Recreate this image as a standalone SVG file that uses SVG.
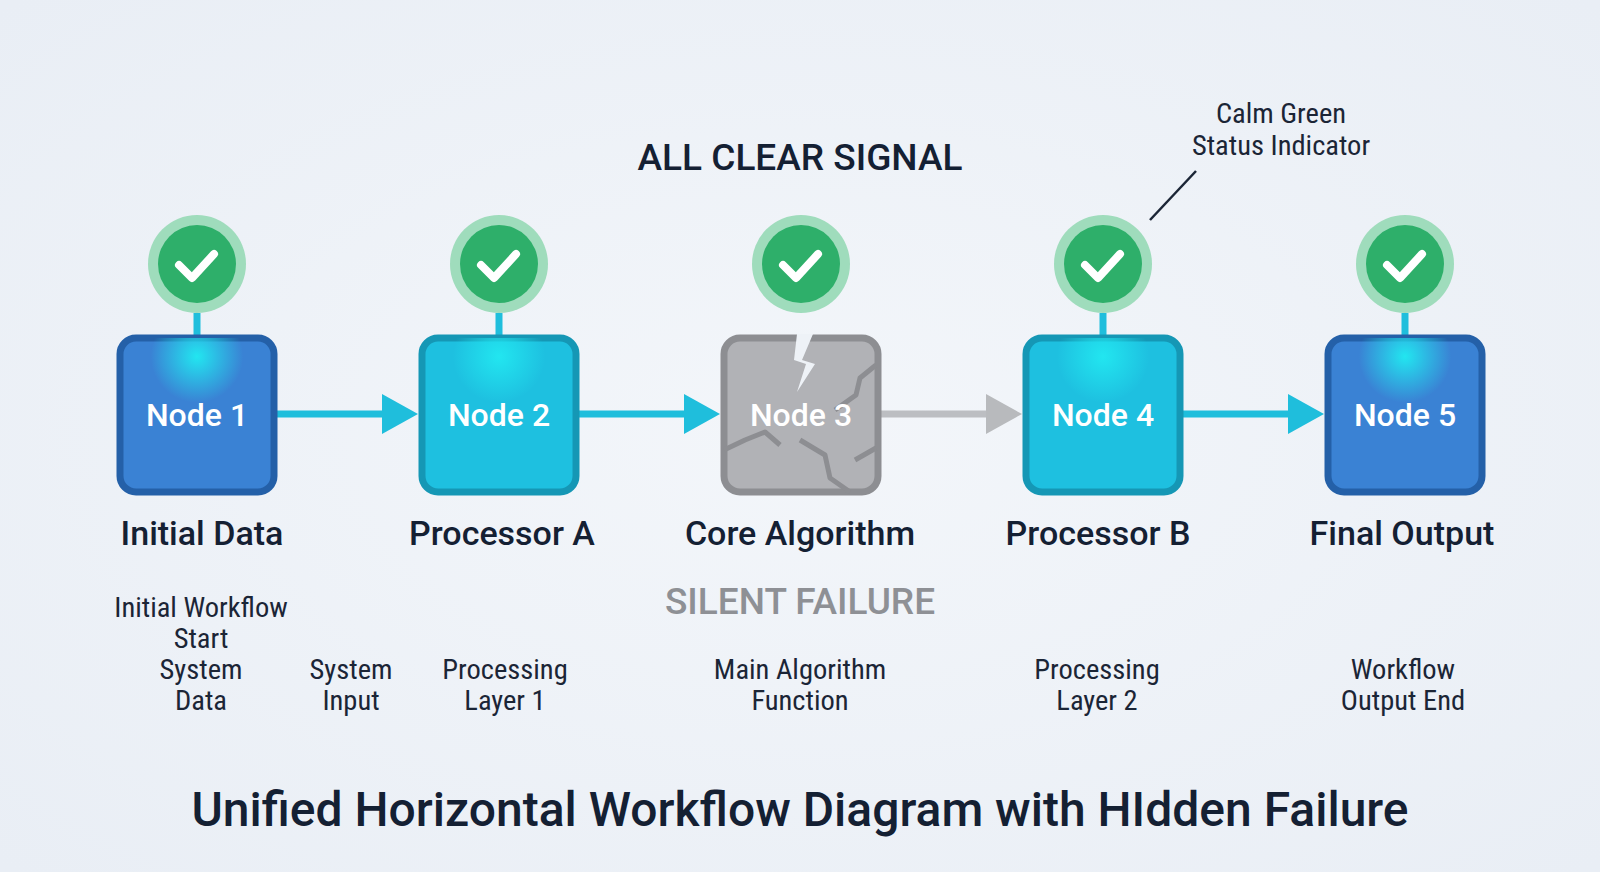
<svg xmlns="http://www.w3.org/2000/svg" width="1600" height="872" viewBox="0 0 1600 872">
<defs>
<radialGradient id="glow" cx="0.5" cy="0.12" r="0.3"><stop offset="0" stop-color="#22e6f0"/><stop offset="1" stop-color="#22e6f0" stop-opacity="0"/></radialGradient>
<radialGradient id="bg" cx="0.5" cy="0.5" r="0.7"><stop offset="0" stop-color="#f3f6fa"/><stop offset="1" stop-color="#e9eef5"/></radialGradient>
</defs>
<style>
.t{font-family:Roboto,"Liberation Sans",sans-serif;text-anchor:middle}
.nl{font-size:32px;font-weight:500;fill:#fff}
.lbl{font-size:34px;font-weight:500;fill:#142033}
.sm{font-size:28.5px;fill:#1b2536;font-family:"Roboto Condensed",Roboto,"Liberation Sans Narrow","Liberation Sans",sans-serif}
.ring{fill:#9fdcbc}.dot{fill:#2eaf6a}
.chk{fill:none;stroke:#fff;stroke-width:8;stroke-linecap:round;stroke-linejoin:round}
.stem{stroke:#1fbedc;stroke-width:7}
.con{stroke:#1fbedc;stroke-width:7}
</style>
<rect width="1600" height="872" fill="url(#bg)"/>
<text class="t" x="800" y="170" font-size="37" font-weight="500" fill="#142033">ALL CLEAR SIGNAL</text>
<text class="t sm" x="1281" y="123">Calm Green</text>
<text class="t sm" x="1281" y="155">Status Indicator</text>
<line x1="1196" y1="171" x2="1150" y2="220" stroke="#1b2536" stroke-width="2.5"/>

<g id="connectors">
<line class="con" x1="272" y1="414" x2="384" y2="414"/><polygon points="382,394 418,414 382,434" fill="#1fbedc"/>
<line class="con" x1="574" y1="414" x2="686" y2="414"/><polygon points="684,394 720,414 684,434" fill="#1fbedc"/>
<line x1="876" y1="414" x2="988" y2="414" stroke="#bcbec2" stroke-width="7"/><polygon points="986,394 1022,414 986,434" fill="#b8babd"/>
<line class="con" x1="1178" y1="414" x2="1290" y2="414"/><polygon points="1288,394 1324,414 1288,434" fill="#1fbedc"/>
</g>

<g id="node1">
<circle class="ring" cx="197" cy="264" r="49"/><circle class="dot" cx="197" cy="264" r="39"/><polyline class="chk" points="179,265 192,278 214,254"/>
<line class="stem" x1="197" y1="313" x2="197" y2="338"/>
<rect x="120" y="338" width="154" height="154" rx="16" fill="#3a82d4" stroke="#2460a8" stroke-width="7"/>
<rect x="120" y="338" width="154" height="154" rx="16" fill="url(#glow)"/>
<text class="t nl" x="197" y="426">Node 1</text>
<text class="t lbl" x="202" y="545">Initial Data</text>
</g>
<g id="node2">
<circle class="ring" cx="499" cy="264" r="49"/><circle class="dot" cx="499" cy="264" r="39"/><polyline class="chk" points="481,265 494,278 516,254"/>
<line class="stem" x1="499" y1="313" x2="499" y2="338"/>
<rect x="422" y="338" width="154" height="154" rx="16" fill="#1ec0e0" stroke="#1597b5" stroke-width="7"/>
<rect x="422" y="338" width="154" height="154" rx="16" fill="url(#glow)"/>
<text class="t nl" x="499" y="426">Node 2</text>
<text class="t lbl" x="502" y="545">Processor A</text>
</g>
<g id="node3">
<circle class="ring" cx="801" cy="264" r="49"/><circle class="dot" cx="801" cy="264" r="39"/><polyline class="chk" points="783,265 796,278 818,254"/>
<rect x="724" y="338" width="154" height="154" rx="16" fill="#b1b2b6" stroke="#8d8e92" stroke-width="7"/>
<polygon points="797,334 813,334 802,360 815,364 797,392 806,364 794,360" fill="#eef2f7"/>
<path d="M876,365 L860,378 L856,395 L835,410 M724,450 L745,440 L765,432 L780,445 M800,440 L825,455 L830,478 L850,492 M876,448 L855,460" fill="none" stroke="#8d8e92" stroke-width="5" stroke-linejoin="round"/>
<text class="t nl" x="801" y="426">Node 3</text>
<text class="t lbl" x="800" y="545">Core Algorithm</text>
<text class="t" x="800" y="614" font-size="37" font-weight="500" fill="#8e9095">SILENT FAILURE</text>
</g>
<g id="node4">
<circle class="ring" cx="1103" cy="264" r="49"/><circle class="dot" cx="1103" cy="264" r="39"/><polyline class="chk" points="1085,265 1098,278 1120,254"/>
<line class="stem" x1="1103" y1="313" x2="1103" y2="338"/>
<rect x="1026" y="338" width="154" height="154" rx="16" fill="#1ec0e0" stroke="#1597b5" stroke-width="7"/>
<rect x="1026" y="338" width="154" height="154" rx="16" fill="url(#glow)"/>
<text class="t nl" x="1103" y="426">Node 4</text>
<text class="t lbl" x="1098" y="545">Processor B</text>
</g>
<g id="node5">
<circle class="ring" cx="1405" cy="264" r="49"/><circle class="dot" cx="1405" cy="264" r="39"/><polyline class="chk" points="1387,265 1400,278 1422,254"/>
<line class="stem" x1="1405" y1="313" x2="1405" y2="338"/>
<rect x="1328" y="338" width="154" height="154" rx="16" fill="#3a82d4" stroke="#2460a8" stroke-width="7"/>
<rect x="1328" y="338" width="154" height="154" rx="16" fill="url(#glow)"/>
<text class="t nl" x="1405" y="426">Node 5</text>
<text class="t lbl" x="1402" y="545">Final Output</text>
</g>

<g id="notes">
<text class="t sm" x="201" y="617">Initial Workflow</text>
<text class="t sm" x="201" y="648">Start</text>
<text class="t sm" x="201" y="679">System</text>
<text class="t sm" x="201" y="710">Data</text>
<text class="t sm" x="351" y="679">System</text>
<text class="t sm" x="351" y="710">Input</text>
<text class="t sm" x="505" y="679">Processing</text>
<text class="t sm" x="505" y="710">Layer 1</text>
<text class="t sm" x="800" y="679">Main Algorithm</text>
<text class="t sm" x="800" y="710">Function</text>
<text class="t sm" x="1097" y="679">Processing</text>
<text class="t sm" x="1097" y="710">Layer 2</text>
<text class="t sm" x="1403" y="679">Workflow</text>
<text class="t sm" x="1403" y="710">Output End</text>
</g>
<text class="t" x="800" y="826" font-size="48" font-weight="500" fill="#142033">Unified Horizontal Workflow Diagram with HIdden Failure</text>
</svg>
